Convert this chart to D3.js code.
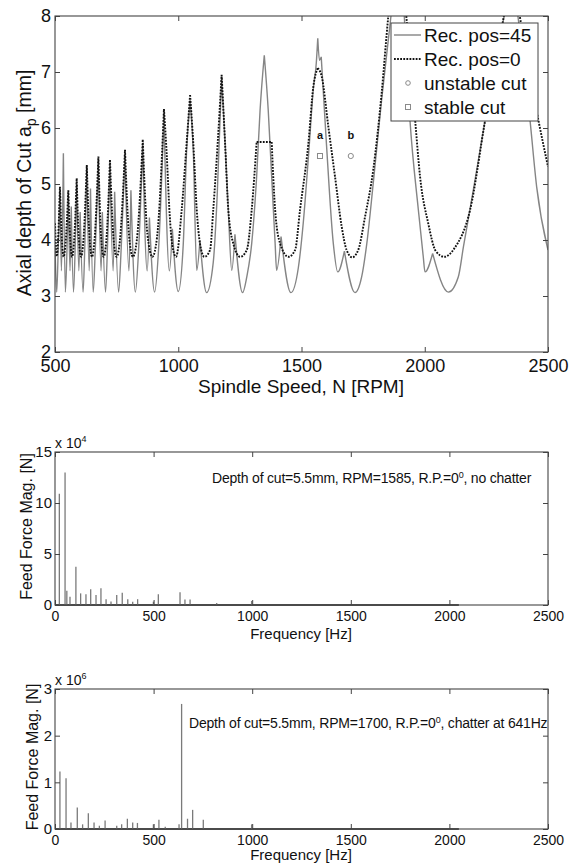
<!DOCTYPE html>
<html><head><meta charset="utf-8">
<script src="https://cdn.jsdelivr.net/npm/d3@7"></script>
<style>
body{margin:0;background:#fff}
svg text{font-family:"Liberation Sans",Arial,Helvetica,sans-serif;fill:#111}
</style></head>
<body><svg id="c" width="572" height="868" style="display:block;background:#fff"></svg>
<script>
// ---------- DATA ----------
const rpmTicks = [500, 1000, 1500, 2000, 2500];
const depthTicks = [2, 3, 4, 5, 6, 7, 8];
// Rec. pos=45 (solid gray): [RPM, depth mm]
const recPos45 = [
[500,3.9],[507,3.07],[514,4.0],[520,4.85],[526,3.45],[534,5.55],[542,3.07],[549,3.9],[554,4.8],[561,3.45],[566,4.6],[575,3.07],[582,3.9],[588,5.0],[597,3.45],[602,4.5],[614,3.07],[621,3.9],[629,5.25],[639,3.45],[644,4.92],[655,3.07],[664,3.9],[676,5.4],[687,3.45],[692,4.5],[705,3.07],[713,3.9],[723,5.35],[736,3.45],[742,4.86],[758,3.07],[769,3.9],[784,5.5],[800,3.45],[808,4.89],[826,3.07],[840,3.9],[856,5.7],[874,3.45],[883,4.4],[904,3.07],[921,3.9],[942,6.25],[964,3.45],[976,4.2],[1000,3.08],[1020,3.9],[1034,5.6],[1048,6.5],[1061,5.6],[1075,3.46],[1088,4.0],[1115,3.06],[1142,3.6],[1158,4.8],[1176,6.9],[1190,5.73],[1203,4.54],[1217,3.46],[1230,4.1],[1261,3.06],[1278,3.34],[1298,3.94],[1318,5.13],[1332,6.32],[1349,7.30],[1365,6.32],[1379,5.13],[1393,3.94],[1399,3.46],[1417,4.06],[1457,3.06],[1487,3.5],[1507,4.3],[1530,5.6],[1548,6.7],[1560,7.16],[1566,7.60],[1573,7.21],[1580,7.27],[1601,5.73],[1629,3.94],[1647,3.43],[1674,3.80],[1717,3.06],[1744,3.34],[1765,3.94],[1791,5.01],[1825,6.5],[1863,8.0],[1900,9.6],[1940,6.14],[1974,4.54],[1994,3.70],[2001,3.43],[2032,3.76],[2096,3.07],[2136,3.34],[2157,3.88],[2190,4.71],[2245,6.14],[2355,8.8],[2427,6.14],[2454,4.95],[2500,3.82]
];
// Rec. pos=0 (dotted black)
const recPos0 = [
[500,4.3],[507,3.71],[520,4.95],[528,4.0],[535,3.70],[543,3.95],[554,4.89],[562,4.0],[569,3.70],[577,3.95],[588,5.10],[597,4.0],[606,3.70],[615,3.98],[629,5.34],[640,4.05],[650,3.70],[660,3.98],[676,5.49],[687,4.05],[697,3.70],[708,3.98],[723,5.43],[737,4.05],[750,3.70],[763,3.98],[784,5.61],[800,4.1],[816,3.70],[832,4.0],[856,5.79],[875,4.1],[895,3.70],[914,4.05],[942,6.34],[953,5.55],[965,4.47],[976,3.9],[991,3.70],[1014,4.54],[1034,5.73],[1048,6.59],[1061,5.73],[1075,4.54],[1088,3.94],[1106,3.70],[1129,3.82],[1142,4.54],[1160,5.73],[1176,6.95],[1190,5.73],[1203,4.54],[1223,3.94],[1251,3.70],[1278,3.82],[1298,4.54],[1318,5.75],[1379,5.75],[1393,4.54],[1413,3.94],[1447,3.70],[1474,3.82],[1494,4.54],[1528,5.73],[1548,6.74],[1566,7.07],[1582,6.92],[1609,6.02],[1636,5.13],[1663,4.24],[1683,3.82],[1706,3.69],[1730,3.82],[1758,4.42],[1791,5.25],[1825,6.62],[1852,7.99],[1895,9.6],[1961,6.14],[1981,5.13],[2014,4.30],[2045,3.80],[2080,3.70],[2120,3.85],[2184,4.54],[2245,6.14],[2355,8.8],[2461,6.14],[2500,5.31]
];
const cutRpm = [1575, 1700];
const cutDepth = [5.5, 5.5];
const cutLabel = ["a", "b"];
const cutKind = ["stable", "unstable"];
const legendLabels = ["Rec. pos=45", "Rec. pos=0", "unstable cut", "stable cut"];

const freqTicks = [0, 500, 1000, 1500, 2000, 2500];
const fftMaxFreq = 2048;
// Spectrum a (x 10^4 N)
const magTicksA = [0, 5, 10, 15];
const freqA = [22, 51, 60, 76, 106, 130, 157, 181, 208, 233, 259, 284, 313, 341, 369, 394, 419, 499, 524, 634, 659, 685, 820, 997];
const magA  = [10.9, 13.0, 1.4, 0.8, 3.76, 1.14, 1.05, 1.54, 0.98, 1.63, 0.56, 0.35, 0.98, 1.2, 0.57, 0.33, 0.57, 0.33, 1.05, 1.24, 0.55, 0.55, 0.2, 0.4];
// Spectrum b (x 10^6 N)
const magTicksB = [0, 1, 2, 3];
const freqB = [25, 56, 81, 113, 140, 169, 198, 225, 254, 313, 338, 367, 394, 418, 499, 527, 559, 629, 642, 672, 698, 752, 997];
const magB  = [1.23, 1.09, 0.14, 0.46, 0.1, 0.34, 0.14, 0.07, 0.18, 0.07, 0.1, 0.22, 0.14, 0.13, 0.1, 0.2, 0.05, 0.1, 2.68, 0.22, 0.41, 0.2, 0.1];

// ---------- DRAW ----------
const svg = d3.select("#c");
const AX = "#444";
const plain = d => String(d);

function box(x, y, xTicks, yTicks, o) {
  const [x0, x1] = x.range(), [y0, y1] = [y.range()[1], y.range()[0]];
  const style = g => { g.select(".domain").remove(); g.selectAll(".tick line").attr("stroke", AX).attr("stroke-width", 1);
    g.attr("font-family", null).attr("font-size", null); };
  const gb = svg.append("g").attr("transform", `translate(0,${y1})`)
    .call(d3.axisBottom(x).tickValues(xTicks).tickFormat(plain).tickSize(-5).tickSizeOuter(0).tickPadding(o.padX)).call(style);
  gb.selectAll("text").style("font-size", o.fsX + "px");
  svg.append("g").attr("transform", `translate(0,${y0})`)
    .call(d3.axisTop(x).tickValues(xTicks).tickSize(-5).tickSizeOuter(0).tickFormat(() => "")).call(style);
  const gl = svg.append("g").attr("transform", `translate(${x0},0)`)
    .call(d3.axisLeft(y).tickValues(yTicks).tickFormat(plain).tickSize(-5).tickSizeOuter(0).tickPadding(o.padY)).call(style);
  gl.selectAll("text").style("font-size", o.fsY + "px");
  svg.append("g").attr("transform", `translate(${x1},0)`)
    .call(d3.axisRight(y).tickValues(yTicks).tickSize(-5).tickSizeOuter(0).tickFormat(() => "")).call(style);
  svg.append("rect").attr("x", x0).attr("y", y0).attr("width", x1 - x0).attr("height", y1 - y0)
    .attr("fill", "none").attr("stroke", AX).attr("stroke-width", 1.1);
}

// split a series into pieces at its local maxima so that peaks stay sharp
function pieces(pts) {
  const out = []; let cur = [pts[0]];
  for (let i = 1; i < pts.length; i++) {
    cur.push(pts[i]);
    if (i < pts.length - 1 && pts[i][1] >= pts[i-1][1] && pts[i][1] >= pts[i+1][1]) { out.push(cur); cur = [pts[i]]; }
  }
  out.push(cur); return out;
}

// ---- top chart ----
const xT = d3.scaleLinear().domain([500, 2500]).range([55, 548]);
const yT = d3.scaleLinear().domain([2, 8]).range([352, 16]);
svg.append("clipPath").attr("id", "clipT").append("rect")
  .attr("x", 55).attr("y", 16).attr("width", 493).attr("height", 336);
const lineT = d3.line().x(d => xT(d[0])).y(d => yT(d[1])).curve(d3.curveMonotoneX);
const gT = svg.append("g").attr("clip-path", "url(#clipT)");
gT.append("path").attr("d", pieces(recPos45).map(lineT).join(""))
  .attr("fill", "none").attr("stroke", "#858585").attr("stroke-width", 1.4);
gT.append("path").attr("d", pieces(recPos0).map(lineT).join(""))
  .attr("fill", "none").attr("stroke", "#111").attr("stroke-width", 1.9).attr("stroke-dasharray", "1.8,1.3");

// cut points
cutRpm.forEach((r, i) => {
  const cx = xT(r), cy = yT(cutDepth[i]);
  if (cutKind[i] === "stable") svg.append("rect").attr("x", cx - 2.5).attr("y", cy - 2.5).attr("width", 5).attr("height", 5)
      .attr("fill", "none").attr("stroke", "#8a8a8a").attr("stroke-width", 1);
  else svg.append("circle").attr("cx", cx).attr("cy", cy).attr("r", 2.6).attr("fill", "none").attr("stroke", "#8a8a8a").attr("stroke-width", 1);
  svg.append("text").attr("x", cx).attr("y", cy - 17).attr("text-anchor", "middle")
    .style("font-size", "11px").style("font-weight", "bold").text(cutLabel[i]);
});

box(xT, yT, rpmTicks, depthTicks, {padX: 7, padY: 4, fsX: 18, fsY: 18});

// legend
const lg = svg.append("g");
lg.append("rect").attr("x", 391).attr("y", 23).attr("width", 147).attr("height", 98)
  .attr("fill", "#fff").attr("stroke", AX).attr("stroke-width", 1);
const rowY = [35, 59, 83, 107];
lg.append("line").attr("x1", 394).attr("x2", 421).attr("y1", rowY[0]).attr("y2", rowY[0]).attr("stroke", "#858585").attr("stroke-width", 1.4);
lg.append("line").attr("x1", 394).attr("x2", 421).attr("y1", rowY[1]).attr("y2", rowY[1]).attr("stroke", "#111").attr("stroke-width", 1.9).attr("stroke-dasharray", "1.8,1.3");
lg.append("circle").attr("cx", 408).attr("cy", rowY[2]).attr("r", 2.3).attr("fill", "none").attr("stroke", "#8a8a8a");
lg.append("rect").attr("x", 405.5).attr("y", rowY[3] - 2.5).attr("width", 5).attr("height", 5).attr("fill", "none").attr("stroke", "#8a8a8a");
legendLabels.forEach((t, i) => lg.append("text").attr("x", 424).attr("y", rowY[i]).attr("dy", "0.36em").style("font-size", "19px").text(t));

// axis titles
svg.append("text").attr("x", 301).attr("y", 393).attr("text-anchor", "middle").style("font-size", "19px").text("Spindle Speed, N [RPM]");
const yl = svg.append("text").attr("transform", "translate(31,183) rotate(-90)").attr("text-anchor", "middle").style("font-size", "19.5px");
yl.append("tspan").text("Axial depth of Cut a");
yl.append("tspan").attr("dy", 5).style("font-size", "14px").text("p");
yl.append("tspan").attr("dy", -5).text(" [mm]");

// ---- spectrum charts ----
function spectrum(y0, y1, freqs, mags, magTicks, expo, note, noteX, noteY, ylabX, xlabY) {
  const x = d3.scaleLinear().domain([0, 2500]).range([55, 548]);
  const y = d3.scaleLinear().domain([0, magTicks[magTicks.length - 1]]).range([y1, y0]);
  const g = svg.append("g");
  g.append("line").attr("x1", x(0)).attr("x2", x(fftMaxFreq)).attr("y1", y(0)).attr("y2", y(0)).attr("stroke", "#555").attr("stroke-width", 1.8);
  g.selectAll(".bar").data(freqs).join("line")
    .attr("x1", d => x(d)).attr("x2", d => x(d)).attr("y1", y(0)).attr("y2", (d, i) => y(mags[i]))
    .attr("stroke", "#7a7a7a").attr("stroke-width", 1.3);
  box(x, y, freqTicks, magTicks, {padX: 6, padY: 3, fsX: 14, fsY: 15});
  const ex = svg.append("text").attr("x", 55).attr("y", y0 - 4).style("font-size", "14px");
  ex.append("tspan").text("x 10");
  ex.append("tspan").attr("dy", -6).style("font-size", "9px").text(expo);
  const nt = svg.append("text").attr("x", noteX).attr("y", noteY).style("font-size", "14px").style("letter-spacing", "-0.2px");
  nt.append("tspan").text(note[0]);
  nt.append("tspan").attr("dy", -5).style("font-size", "9px").text("0");
  nt.append("tspan").attr("dy", 5).text(note[1]);
  svg.append("text").attr("x", 301).attr("y", xlabY).attr("text-anchor", "middle").style("font-size", "15px").text("Frequency [Hz]");
  svg.append("text").attr("transform", `translate(${ylabX},${(y0 + y1) / 2 - 2}) rotate(-90)`).attr("text-anchor", "middle")
    .style("font-size", "16px").text("Feed Force Mag. [N]");
}
spectrum(452, 605, freqA, magA, magTicksA, "4", ["Depth of cut=5.5mm, RPM=1585, R.P.=0", ", no chatter"], 212, 483, 32, 639);
spectrum(689, 829, freqB, magB, magTicksB, "6", ["Depth of cut=5.5mm, RPM=1700, R.P.=0", ", chatter at 641Hz"], 189, 728, 38, 860);
</script></body></html>
